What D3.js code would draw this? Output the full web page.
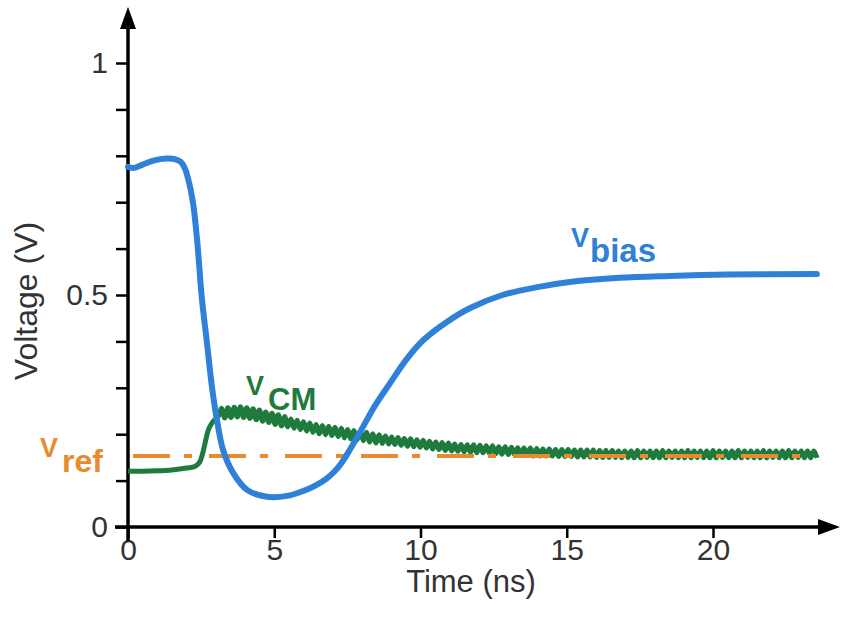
<!DOCTYPE html>
<html><head><meta charset="utf-8">
<script src="https://cdn.jsdelivr.net/npm/d3@7"></script>
<style>
html,body{margin:0;padding:0;background:#fff;}
svg{display:block;font-family:"Liberation Sans",Arial,sans-serif;}
</style></head>
<body><svg id="c" width="846" height="623"></svg>
<script>
// ---- data ----
const xTickValues = [0, 5, 10, 15, 20];
const yTickValues = [0, 0.1, 0.2, 0.3, 0.4, 0.5, 0.6, 0.7, 0.8, 0.9, 1.0];
const yTickLabels = {"0": "0", "0.5": "0.5", "1": "1"};
const xTitle = "Time (ns)";
const yTitle = "Voltage (V)";

// V_bias (time ns, volts)
const biasTime = [0,0.2,0.5,0.9,1.3,1.6,1.8,1.95,2.05,2.22,2.36,2.53,2.7,2.87,3.04,3.25,3.6,4.07,4.75,5.44,6.12,6.45,6.8,7.05,7.3,7.6,8.0,8.45,8.96,9.54,10.1,10.9,11.7,12.8,14.0,15.1,16.8,18.5,20.5,23.55];
const biasValue = [0.776,0.774,0.781,0.79,0.794,0.793,0.787,0.772,0.752,0.70,0.62,0.49,0.397,0.302,0.231,0.166,0.116,0.08,0.065,0.067,0.081,0.091,0.105,0.119,0.138,0.168,0.212,0.262,0.31,0.363,0.403,0.442,0.472,0.5,0.517,0.528,0.537,0.541,0.544,0.545];

// V_CM before the ringing starts
const cmEarlyTime = [0,0.5,1.0,1.5,2.0,2.3,2.45,2.55,2.65,2.75,2.88,3.0,3.1];
const cmEarlyValue = [0.12,0.12,0.121,0.123,0.127,0.131,0.14,0.158,0.185,0.21,0.225,0.233,0.24];
// V_CM ringing, sampled every half period from 3.2 ns
const cmRingStart = 3.2;
const cmRingStep = 0.1077;
const cmRingValue = [
0.256,0.235,0.257,0.236,0.258,0.237,0.259,0.236,0.257,0.234,
0.255,0.231,0.252,0.228,0.248,0.225,0.245,0.221,0.242,0.218,
0.238,0.216,0.233,0.213,0.230,0.210,0.227,0.207,0.224,0.204,
0.221,0.201,0.219,0.199,0.217,0.197,0.215,0.195,0.213,0.192,
0.210,0.190,0.208,0.188,0.206,0.186,0.204,0.183,0.201,0.181,
0.199,0.180,0.196,0.179,0.194,0.178,0.193,0.176,0.191,0.174,
0.190,0.173,0.188,0.172,0.187,0.170,0.185,0.168,0.183,0.167,
0.182,0.165,0.181,0.164,0.179,0.163,0.178,0.162,0.177,0.161,
0.177,0.160,0.176,0.160,0.175,0.159,0.175,0.158,0.173,0.157,
0.173,0.156,0.172,0.156,0.171,0.155,0.170,0.154,0.170,0.153,
0.169,0.153,0.168,0.153,0.168,0.153,0.167,0.152,0.167,0.152,
0.167,0.152,0.166,0.151,0.166,0.151,0.166,0.151,0.166,0.150,
0.165,0.150,0.165,0.150,0.165,0.150,0.164,0.149,0.164,0.150,
0.164,0.149,0.165,0.149,0.164,0.150,0.164,0.149,0.164,0.149,
0.165,0.149,0.164,0.150,0.164,0.149,0.164,0.149,0.165,0.149,
0.164,0.150,0.164,0.149,0.164,0.149,0.165,0.149,0.164,0.150,
0.164,0.149,0.164,0.149,0.165,0.149,0.164,0.150,0.164,0.149,
0.164,0.149,0.165,0.149,0.164,0.150,0.164,0.149,0.164,0.149,
0.165,0.149,0.164,0.150,0.164,0.149,0.164,0.149,0.164,0.149
];
// V_ref
const refTime = [0, 23.55];
const refValue = [0.153, 0.153];

const labels = [
  {main: "V", sub: "bias", color: "#2f80d8", x: 571, y: 247, sx: 590, sy: 262, subSize: 33},
  {main: "V", sub: "CM",   color: "#1e7b3d", x: 246, y: 395, sx: 268, sy: 410, subSize: 31},
  {main: "V", sub: "ref",  color: "#e98a2e", x: 40,  y: 457, sx: 62,  sy: 472, subSize: 32}
];

// ---- drawing ----
const svg = d3.select("#c");
const x = d3.scaleLinear().domain([0, 20]).range([128, 713]);
const y = d3.scaleLinear().domain([0, 1]).range([527, 63]);

// axes (ticks + labels)
const yAxis = d3.axisLeft(y).tickValues(yTickValues).tickSize(12).tickPadding(8)
  .tickFormat(d => yTickLabels[String(+d.toFixed(1))] || "");
const gy = svg.append("g").attr("transform", "translate(128,0)").call(yAxis);
gy.select(".domain").remove();
gy.selectAll(".tick line").attr("stroke", "#000").attr("stroke-width", 2.5);
gy.selectAll(".tick text").attr("font-size", 30).attr("fill", "#333")
  .attr("font-family", "Liberation Sans, Arial, sans-serif").attr("dy", "0.3em");

const xAxis = d3.axisBottom(x).tickValues(xTickValues).tickSize(11).tickPadding(1);
const gx = svg.append("g").attr("transform", "translate(0,527)").call(xAxis);
gx.select(".domain").remove();
gx.selectAll(".tick line").attr("stroke", "#000").attr("stroke-width", 2.5);
gx.selectAll(".tick text").attr("font-size", 30).attr("fill", "#333")
  .attr("font-family", "Liberation Sans, Arial, sans-serif");

// axis lines with arrows
svg.append("line").attr("x1", 115).attr("x2", 824).attr("y1", y(0)).attr("y2", y(0))
  .attr("stroke", "#000").attr("stroke-width", 3.5);
svg.append("line").attr("x1", x(0)).attr("x2", x(0)).attr("y1", 541).attr("y2", 24)
  .attr("stroke", "#000").attr("stroke-width", 3.5);
svg.append("path").attr("d", `M840,${y(0)} L818,${y(0)-8} L818,${y(0)+8} Z`).attr("fill", "#000");
svg.append("path").attr("d", `M${x(0)},7 L${x(0)-8},29 L${x(0)+8},29 Z`).attr("fill", "#000");

// titles
svg.append("text").attr("x", 471).attr("y", 592).attr("text-anchor", "middle")
  .attr("font-size", 31).attr("fill", "#333").text(xTitle);
svg.append("text").attr("transform", "translate(37,301) rotate(-90)").attr("text-anchor", "middle")
  .attr("font-size", 32).attr("fill", "#333").text(yTitle);

// series
const line = d3.line().x(d => x(d[0])).y(d => y(d[1])).curve(d3.curveCatmullRom.alpha(0.5));
const cmData = cmEarlyTime.map((t, i) => [t, cmEarlyValue[i]])
  .concat(cmRingValue.map((v, i) => [cmRingStart + i * cmRingStep, v]));
const biasData = biasTime.map((t, i) => [t, biasValue[i]]);
const refData = refTime.map((t, i) => [t, refValue[i]]);

svg.append("path").datum(cmData).attr("d", line).attr("fill", "none")
  .attr("stroke", "#1e7b3d").attr("stroke-width", 5).attr("stroke-linejoin", "round");
svg.append("path").datum(refData).attr("d", d3.line().x(d => x(d[0])).y(d => y(d[1])))
  .attr("fill", "none").attr("stroke", "#e98a2e").attr("stroke-width", 4)
  .attr("stroke-dasharray", "37,14,8,17").attr("stroke-dashoffset", 71);
svg.append("path").datum(biasData).attr("d", line).attr("fill", "none")
  .attr("stroke", "#2f80d8").attr("stroke-width", 6).attr("stroke-linejoin", "round")
  .attr("stroke-linecap", "round");

// series labels
labels.forEach(l => {
  svg.append("text").attr("x", l.x).attr("y", l.y).attr("font-size", 27).attr("font-weight", "bold")
    .attr("fill", l.color).text(l.main);
  svg.append("text").attr("x", l.sx).attr("y", l.sy).attr("font-size", l.subSize).attr("font-weight", "bold")
    .attr("fill", l.color).text(l.sub);
});
</script></body></html>
